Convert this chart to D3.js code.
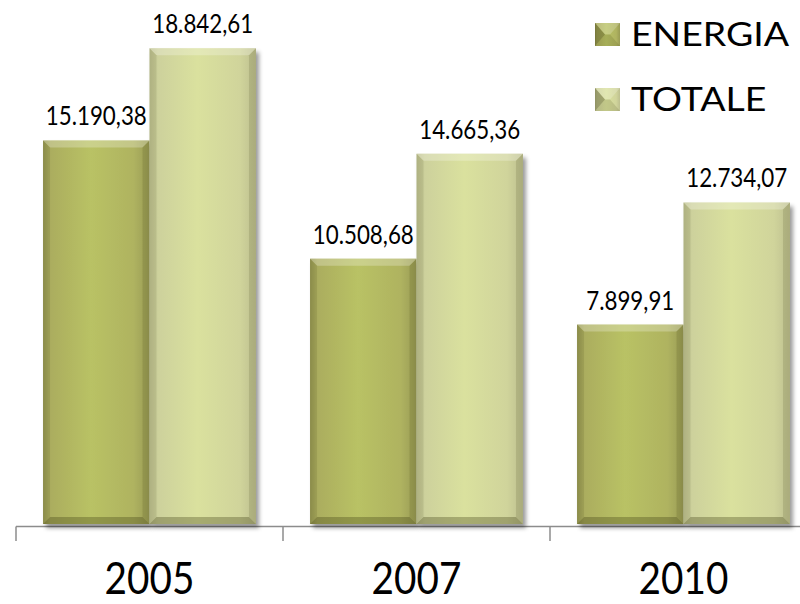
<!DOCTYPE html>
<html>
<head>
<meta charset="utf-8">
<script src="https://cdn.jsdelivr.net/npm/d3@7"></script>
<style>
  html, body { margin: 0; padding: 0; background: #ffffff; }
  svg { display: block; font-family: Lato, "Open Sans", sans-serif; }
</style>
</head>
<body>
<svg id="chart" width="800" height="604"></svg>
<script>
// ---- data ----
const years = ["2005", "2007", "2010"];
const seriesNames = ["ENERGIA", "TOTALE"];
const energia = [15190.38, 10508.68, 7899.91];
const totale = [18842.61, 14665.36, 12734.07];
const valueLabels = {
  ENERGIA: ["15.190,38", "10.508,68", "7.899,91"],
  TOTALE: ["18.842,61", "14.665,36", "12.734,07"]
};

const rows = years.map((y, i) => ({ year: y, ENERGIA: energia[i], TOTALE: totale[i], i }));

const svg = d3.select("#chart");
const W = 800, H = 604;
const baseY = 524;

const x0 = d3.scaleBand().domain(years).range([16, 817]).paddingInner(0).paddingOuter(0);
const x1 = d3.scaleBand().domain(seriesNames).range([0, x0.bandwidth()]).paddingInner(0).paddingOuter(0.254);
const y = d3.scaleLinear().domain([0, 20000]).range([baseY, 19]);

const defs = svg.append("defs");
const grads = {
  ENERGIA: [["0%", "#949550"], ["7%", "#abad5e"], ["45%", "#b9c265"], ["85%", "#afb360"], ["100%", "#999b54"]],
  TOTALE: [["0%", "#bcbf8e"], ["8%", "#cdd19c"], ["45%", "#dae19e"], ["85%", "#d0d49b"], ["100%", "#bdbf8f"]]
};
Object.entries(grads).forEach(([k, stops]) => {
  const g = defs.append("linearGradient").attr("id", "g_" + k).attr("x1", "0").attr("x2", "1").attr("y1", "0").attr("y2", "0");
  stops.forEach(([o, c]) => g.append("stop").attr("offset", o).attr("stop-color", c));
});
const f = defs.append("filter").attr("id", "shadow").attr("x", "-10%").attr("y", "-10%").attr("width", "130%").attr("height", "130%");
f.append("feDropShadow").attr("dx", 3).attr("dy", 4).attr("stdDeviation", 2).attr("flood-color", "#000").attr("flood-opacity", 0.4);

// axis line and ticks
const axisG = svg.append("g");
axisG.append("line").attr("x1", x0.range()[0]).attr("x2", W).attr("y1", baseY + 2.5).attr("y2", baseY + 2.5)
  .attr("stroke", "#8c8c8c").attr("stroke-width", 1.5);
axisG.selectAll("line.tick").data(years).join("line").attr("class", "tick")
  .attr("x1", d => x0(d)).attr("x2", d => x0(d)).attr("y1", baseY + 2.5).attr("y2", baseY + 17)
  .attr("stroke", "#8c8c8c").attr("stroke-width", 1.5);

function bevelBar(g, x, yTop, w, h, series, b) {
  const grp = g.append("g");
  grp.append("rect").attr("x", x).attr("y", yTop).attr("width", w).attr("height", h)
    .attr("fill", `url(#g_${series})`).attr("filter", "url(#shadow)");
  const poly = (pts, fill, op) => grp.append("polygon").attr("points", pts.map(p => p.join(",")).join(" "))
    .attr("fill", fill).attr("fill-opacity", op);
  poly([[x, yTop], [x + w, yTop], [x + w - b, yTop + b], [x + b, yTop + b]], "#ffffff", 0.25);
  poly([[x, yTop + h], [x + w, yTop + h], [x + w - b, yTop + h - b], [x + b, yTop + h - b]], "#3a3a10", 0.32);
  poly([[x, yTop], [x + b, yTop + b], [x + b, yTop + h - b], [x, yTop + h]], "#3a3a10", 0.1);
  poly([[x + w, yTop], [x + w - b, yTop + b], [x + w - b, yTop + h - b], [x + w, yTop + h]], "#3a3a10", 0.14);
}

const barsG = svg.append("g");
rows.forEach(r => {
  seriesNames.forEach(s => {
    const bx = x0(r.year) + x1(s);
    const by = y(r[s]);
    bevelBar(barsG, bx, by, x1.bandwidth(), y(0) - by, s, 7);
  });
});

// value labels
const labG = svg.append("g");
rows.forEach(r => {
  seriesNames.forEach(s => {
    const cx = x0(r.year) + x1(s) + x1.bandwidth() / 2;
    labG.append("text")
      .attr("transform", `translate(${cx},${y(r[s]) - 15}) scale(0.86,1)`)
      .attr("text-anchor", "middle").attr("font-size", 26).attr("fill", "#000")
      .text(valueLabels[s][r.i]);
  });
});

// year labels
svg.append("g").selectAll("text").data(years).join("text")
  .attr("transform", d => `translate(${x0(d) + x0.bandwidth() / 2},594) scale(0.86,1)`)
  .attr("text-anchor", "middle").attr("font-size", 45).attr("fill", "#000")
  .text(d => d);

// legend
const leg = svg.append("g");
seriesNames.forEach((s, i) => {
  const lx = 595, ly = 23 + i * 65, sw = 25, sh = 23, b = 10;
  leg.append("rect").attr("x", lx).attr("y", ly).attr("width", sw).attr("height", sh).attr("fill", `url(#g_${s})`);
  const poly = (pts, fill, op) => leg.append("polygon").attr("points", pts.map(p => p.join(",")).join(" "))
    .attr("fill", fill).attr("fill-opacity", op);
  poly([[lx, ly], [lx + sw, ly], [lx + sw - b, ly + sh / 2], [lx + b, ly + sh / 2]], "#ffffff", 0.2);
  poly([[lx, ly], [lx + b, ly + sh / 2], [lx, ly + sh]], "#3a3a10", 0.35);
  poly([[lx, ly + sh], [lx + sw, ly + sh], [lx + sw - b, ly + sh / 2], [lx + b, ly + sh / 2]], "#3a3a10", 0.15);
  leg.append("text").attr("transform", `translate(631,${ly + sh}) scale(1.17,1)`)
    .attr("font-size", 32).attr("fill", "#000").text(s);
});
</script>
</body>
</html>
